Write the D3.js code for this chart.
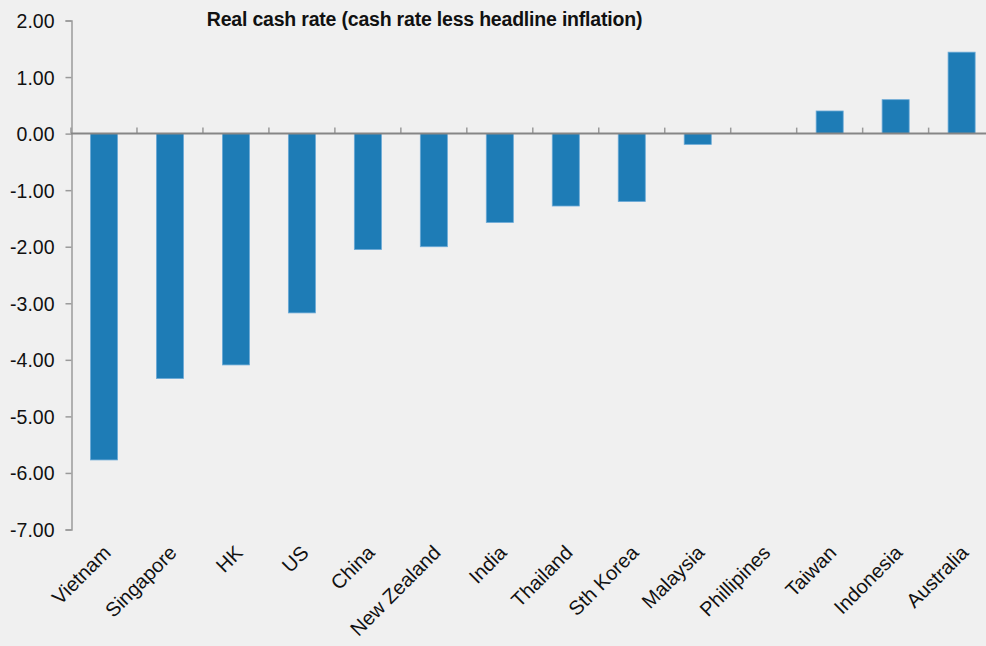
<!DOCTYPE html>
<html>
<head>
<meta charset="utf-8">
<script src="https://cdn.jsdelivr.net/npm/d3@7/dist/d3.min.js"></script>
<style>
  html, body { margin: 0; padding: 0; background: #f0f0f0; }
  svg { display: block; }
  text { font-family: "Liberation Sans", Arial, sans-serif; fill: #111; }
</style>
</head>
<body>
<script>
// data
var countries = ["Vietnam", "Singapore", "HK", "US", "China", "New Zealand", "India",
                 "Thailand", "Sth Korea", "Malaysia", "Phillipines", "Taiwan", "Indonesia", "Australia"];
var realRate = [-5.77, -4.33, -4.09, -3.17, -2.05, -2.00, -1.57,
                -1.28, -1.20, -0.19, 0.00, 0.40, 0.60, 1.44];
var yTicks = [2, 1, 0, -1, -2, -3, -4, -5, -6, -7];
var title = "Real cash rate (cash rate less headline inflation)";

var width = 986, height = 646;
var margin = {top: 20.5, right: -8.6, bottom: 116.5, left: 71};

var svg = d3.select("body").append("svg")
    .attr("width", width)
    .attr("height", height);

svg.append("rect")
    .attr("width", width)
    .attr("height", height)
    .attr("fill", "#f0f0f0");

var x = d3.scaleBand()
    .domain(countries)
    .range([margin.left, width - margin.right])
    .paddingInner(0.59)
    .paddingOuter(0.295);

var y = d3.scaleLinear()
    .domain([-7, 2])
    .range([height - margin.bottom, margin.top]);

// y axis (plain hyphen for negatives, like the original)
var fmt = d3.format(".2f");
var yAxis = d3.axisLeft(y)
    .tickValues(yTicks)
    .tickSize(6)
    .tickFormat(function(d) { return fmt(d).replace("\u2212", "-"); });

var gy = svg.append("g")
    .attr("transform", "translate(" + (margin.left + 0.5) + ",0)")
    .call(yAxis);
gy.select(".domain").attr("stroke", "#9a9a9a").attr("stroke-width", 1.5);
gy.selectAll(".tick line").attr("stroke", "#9a9a9a").attr("stroke-width", 1.5);
gy.selectAll(".tick text")
    .attr("x", -17)
    .attr("dy", "0.36em")
    .style("font-size", "19.5px")
    .style("font-family", "'Liberation Sans', Arial, sans-serif")
    .attr("fill", "#111");

// bars
svg.selectAll(".bar")
    .data(countries)
  .enter().append("rect")
    .attr("class", "bar")
    .attr("x", function(d) { return x(d); })
    .attr("width", x.bandwidth())
    .attr("y", function(d, i) { return y(Math.max(0, realRate[i])); })
    .attr("height", function(d, i) { return Math.abs(y(realRate[i]) - y(0)); })
    .attr("fill", "#1e7cb6")
    .attr("stroke", "#6aa9d6")
    .attr("stroke-width", 0.8);

// zero axis with category ticks (ticks point up)
var step = x.step();
var boundaries = d3.range(countries.length + 1).map(function(i) { return margin.left + i * step; });

var gx = svg.append("g").attr("class", "x axis");
gx.selectAll(".ctick")
    .data(boundaries)
  .enter().append("line")
    .attr("x1", function(d) { return d; })
    .attr("x2", function(d) { return d; })
    .attr("y1", y(0) - 6)
    .attr("y2", y(0))
    .attr("stroke", "#9a9a9a")
    .attr("stroke-width", 1.5);
gx.append("line")
    .attr("x1", margin.left)
    .attr("x2", width)
    .attr("y1", y(0))
    .attr("y2", y(0))
    .attr("stroke", "#868686")
    .attr("stroke-width", 2);

// category labels, rotated
svg.selectAll(".clabel")
    .data(countries)
  .enter().append("text")
    .attr("class", "clabel")
    .attr("transform", function(d) {
        return "translate(" + (x(d) + x.bandwidth() / 2 + 8) + "," + 554 + ") rotate(-45)";
    })
    .attr("text-anchor", "end")
    .style("font-size", "20px")
    .text(function(d) { return d; });

// title
svg.append("text")
    .attr("x", 424.5)
    .attr("y", 26)
    .attr("text-anchor", "middle")
    .style("font-size", "19.5px")
    .style("font-weight", "bold")
    .style("letter-spacing", "-0.2px")
    .text(title);
</script>
</body>
</html>
